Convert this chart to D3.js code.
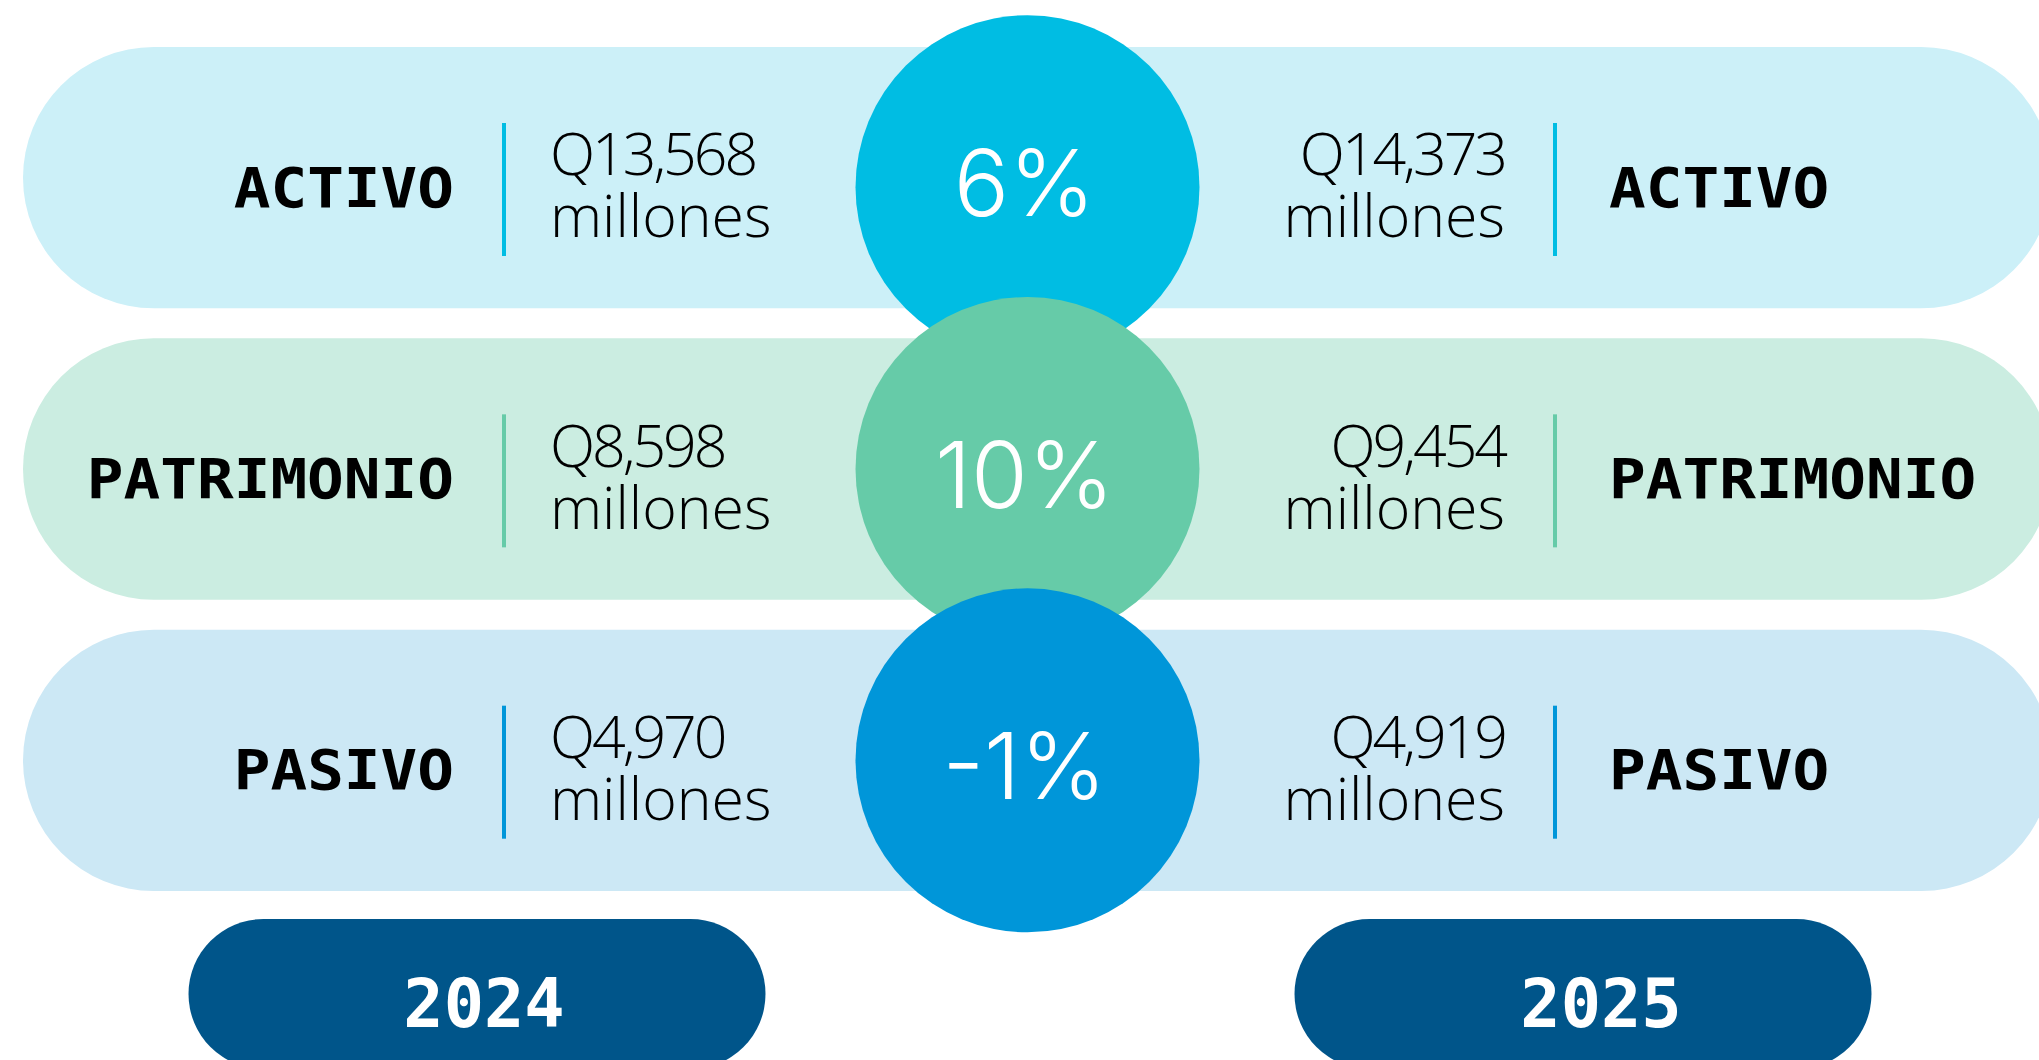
<!DOCTYPE html>
<html>
<head>
<meta charset="utf-8">
<script src="https://cdn.jsdelivr.net/npm/d3@7"></script>
<style>
  body { margin: 0; background: #fff; overflow: hidden; }
  svg { display: block; }
</style>
</head>
<body>
<div id="chart"></div>
<script>
(function(){
  // data
  var categories = ["ACTIVO", "PATRIMONIO", "PASIVO"];
  var values2024 = [13568, 8598, 4970];
  var values2025 = [14373, 9454, 4919];
  var years = ["2024", "2025"];
  var unit = "millones";

  var width = 2039,
    height = 1060;

  var pillColors = ["#ccf0f8", "#cbede1", "#cce8f5"];
  var dotColors = ["#00bde3", "#66cba8", "#0096d9"];

  var svg = d3.select("#chart")
    .append("svg")
    .attr("width", width)
    .attr("height", height);

  // rows
  var y = d3.scaleBand()
    .domain(categories)
    .range([47, 891])
    .paddingInner(30 / 291);

  var cx = 1027.5;
  var fmt = d3.format(",");

  var rows = categories.map(function(c, i){
    return {
      name: c,
      a: values2024[i],
      b: values2025[i],
      change: Math.round((values2025[i] / values2024[i] - 1) * 100),
      i: i
    };
  });

  var h = y.bandwidth();

  // background pills
  svg.selectAll(".pill")
    .data(rows)
    .enter().append("rect")
    .attr("class", "pill")
    .attr("x", 23)
    .attr("y", function(d){ return y(d.name); })
    .attr("width", 2052 - 23)
    .attr("height", h)
    .attr("rx", h / 2)
    .attr("fill", function(d){ return pillColors[d.i]; });

  // dividers
  [504, 1555].forEach(function(x){
    svg.selectAll(null)
      .data(rows)
      .enter().append("rect")
      .attr("x", x - 2)
      .attr("y", function(d){ return y(d.name) + 76; })
      .attr("width", 4)
      .attr("height", 133)
      .attr("fill", function(d){ return dotColors[d.i]; });
  });

  // labels (slightly squashed mono bold)
  var labelFont = "'DejaVu Sans Mono', monospace";
  function labels(x, anchor){
    svg.selectAll(null)
      .data(rows)
      .enter().append("text")
      .attr("transform", function(d){
        return "translate(" + x + "," + (y(d.name) + h / 2 + 29) + ") scale(1,0.9)";
      })
      .attr("text-anchor", anchor)
      .style("font-family", labelFont)
      .style("font-weight", "bold")
      .style("font-size", "61px")
      .attr("fill", "#000")
      .text(function(d){ return d.name; });
  }
  labels(454, "end");
  labels(1609, "start");

  // values
  function valueText(x, anchor, key){
    var t = svg.selectAll(null)
      .data(rows)
      .enter().append("text")
      .attr("text-anchor", anchor)
      .style("font-family", "'Open Sans', sans-serif")
      .style("font-weight", 300)
      .style("font-size", "59px")
      .attr("fill", "#000");
    t.append("tspan")
      .attr("x", x)
      .attr("y", function(d){ return y(d.name) + h / 2 - 2.5; })
      .style("letter-spacing", "-3px")
      .text(function(d){ return "Q" + fmt(d[key]); });
    t.append("tspan")
      .attr("x", x)
      .attr("y", function(d){ return y(d.name) + h / 2 + 59.5; })
      .text(unit);
  }
  valueText(550, "start", "a");
  valueText(1505, "end", "b");

  // change circles
  var dots = svg.selectAll(".dot")
    .data(rows)
    .enter().append("g")
    .attr("class", "dot");

  dots.append("circle")
    .attr("cx", cx)
    .attr("cy", function(d){ return y(d.name) + h / 2 + (d.i == 0 ? 9.5 : 0); })
    .attr("r", 172)
    .attr("fill", function(d){ return dotColors[d.i]; });

  dots.append("text")
    .attr("x", cx - 3)
    .attr("y", function(d){ return y(d.name) + h / 2 + 38.5; })
    .attr("text-anchor", "middle")
    .style("font-family", "Inter, sans-serif")
    .style("font-weight", 350)
    .style("font-size", "92px")
    .attr("fill", "#fff")
    .text(function(d){ return d.change + "%"; });

  // year pills
  var yx = d3.scalePoint()
    .domain(years)
    .range([477, 1583]);

  var yrs = svg.selectAll(".year")
    .data(years)
    .enter().append("g")
    .attr("class", "year");

  yrs.append("rect")
    .attr("x", function(d){ return yx(d) - 288.5; })
    .attr("y", 919)
    .attr("width", 577)
    .attr("height", 150)
    .attr("rx", 75)
    .attr("fill", "#00558a");

  yrs.append("text")
    .attr("x", function(d, i){ return yx(d) + (i == 0 ? 7 : 18); })
    .attr("y", 1027)
    .attr("text-anchor", "middle")
    .style("font-family", labelFont)
    .style("font-weight", "bold")
    .style("font-size", "67px")
    .attr("fill", "#fff")
    .text(function(d){ return d; });
})();
</script>
</body>
</html>
